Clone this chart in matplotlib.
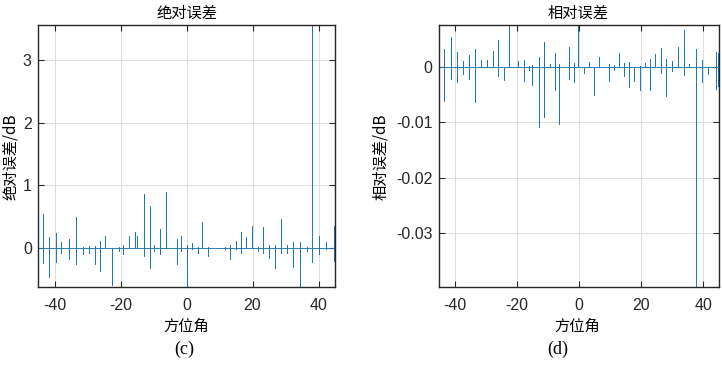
import numpy as np
import matplotlib.pyplot as plt

plt.rcParams['axes.unicode_minus'] = False

# 绝对误差 spikes: position (deg), peak above 0, dip below 0 (dB)
abs_x = [-43.5, -41.6, -39.4, -38.0, -35.5, -33.5, -31.3, -29.6, -27.7, -26.3,
         -24.6, -22.6, -20.5, -19.2, -17.3, -15.5, -15.1, -12.9, -11.0, -9.7,
         -7.9, -6.3, -2.9, -1.6, 0.0, 1.6, 3.4, 4.8, 6.5, 11.6,
         13.2, 15.0, 16.4, 18.0, 19.9, 21.6, 23.3, 25.0, 26.8, 28.7,
         30.6, 32.3, 34.3, 36.4, 38.1, 40.2, 42.4, 44.8]
abs_top = [0.54, 0.17, 0.24, 0.10, 0.15, 0.50, 0.02, 0.03, 0.03, 0.12,
           0.20, 0.00, 0.02, 0.05, 0.20, 0.25, 0.20, 0.86, 0.68, 0.05,
           0.30, 0.89, 0.15, 0.20, 0.05, 0.08, 0.02, 0.42, 0.02, 0.02,
           0.05, 0.12, 0.26, 0.17, 0.35, 0.02, 0.34, 0.05, 0.05, 0.46,
           0.05, 0.10, 0.10, 0.02, 3.60, 0.20, 0.10, 0.35]
abs_bot = [-0.24, -0.46, -0.22, -0.08, -0.17, -0.26, -0.10, -0.07, -0.25, -0.37,
           0.00, -0.59, -0.05, -0.10, 0.00, 0.00, 0.00, -0.12, -0.32, -0.05,
           -0.10, 0.00, -0.25, -0.05, -0.62, -0.02, -0.08, 0.00, -0.12, -0.02,
           -0.18, -0.02, -0.08, 0.00, 0.00, -0.05, -0.08, -0.15, -0.32, -0.08,
           -0.08, -0.30, -0.62, -0.05, -0.22, -0.10, -0.02, -0.20]

# 相对误差 spikes
rel_x = [-43.3, -41.2, -39.2, -37.2, -35.3, -33.3, -31.5, -29.6, -27.7, -25.9,
         -24.1, -22.4, -19.6, -17.6, -16.0, -15.2, -12.9, -11.2, -9.4, -7.8,
         -6.3, -3.1, -1.5, -0.2, 1.7, 3.3, 4.9, 6.4, 9.6, 11.2,
         13.0, 14.5, 16.2, 17.7, 19.6, 21.1, 22.8, 24.3, 26.2, 28.1,
         29.9, 31.8, 33.6, 35.5, 37.7, 39.5, 41.6, 44.0, 44.8]
rel_top = [0.0033, 0.0055, 0.0027, 0.0010, 0.0021, 0.0033, 0.0013, 0.0012, 0.0029, 0.0048,
           0.0000, 0.0080, 0.0010, 0.0012, 0.0002, 0.0003, 0.0019, 0.0045, 0.0006, 0.0026,
           0.0006, 0.0036, 0.0007, 0.0080, 0.0000, 0.0009, 0.0000, 0.0019, 0.0006, 0.0003,
           0.0026, 0.0007, 0.0009, 0.0000, 0.0002, 0.0007, 0.0014, 0.0023, 0.0035, 0.0015,
           0.0010, 0.0036, 0.0067, 0.0005, 0.0032, 0.0012, 0.0000, 0.0028, 0.0025]
rel_bot = [-0.0061, -0.0021, -0.0028, -0.0013, -0.0022, -0.0063, 0.0000, 0.0000, 0.0000, -0.0016,
           -0.0024, 0.0000, 0.0000, -0.0025, -0.0005, -0.0033, -0.0108, -0.0090, 0.0000, -0.0042,
           -0.0104, -0.0021, -0.0027, 0.0000, -0.0010, 0.0000, -0.0051, 0.0000, -0.0026, -0.0005,
           0.0000, -0.0016, -0.0036, -0.0025, -0.0042, 0.0000, -0.0042, 0.0000, -0.0011, -0.0052,
           -0.0008, 0.0000, -0.0014, 0.0000, -0.0400, -0.0027, -0.0013, -0.0040, -0.0035]

xticks = [-40, -20, 0, 20, 40]
abs_yticks = [0, 1, 2, 3]
rel_yticks = [-0.03, -0.02, -0.01, 0]
rel_ylabels = ['-0.03', '-0.02', '-0.01', '0']

cjk = ['Noto Sans CJK SC', 'DejaVu Sans']
blue = '#1f78b8'


def series(xs, tops, bots):
    # each spike: straight vertical up/down stroke on a zero baseline
    px, py = [-45.0], [0.0]
    for x, t, b in zip(xs, tops, bots):
        px += [x, x, x, x]
        py += [0.0, t, b, 0.0]
    px.append(45.0)
    py.append(0.0)
    return np.array(px), np.array(py)


def style(ax):
    ax.set_xlim(-45, 45)
    ax.set_xticks(xticks)
    ax.grid(True, color='#dcdcdc', linewidth=0.7)
    ax.set_axisbelow(True)
    ax.tick_params(direction='in', top=True, right=True, length=4, width=0.8,
                   labelsize=11.5, colors='#262626')
    ax.tick_params(axis='x', pad=8)
    ax.tick_params(axis='y', pad=4.5)
    for lab in ax.get_xticklabels() + ax.get_yticklabels():
        lab.set_family('Liberation Sans')
    for s in ax.spines.values():
        s.set_linewidth(1.0)
        s.set_color('#262626')


fig = plt.figure(figsize=(7.22, 3.67), dpi=100)
ax1 = fig.add_axes([38 / 722, 80 / 367, 297 / 722, 262 / 367])
ax2 = fig.add_axes([439 / 722, 80 / 367, 280 / 722, 262 / 367])

x1, y1 = series(abs_x, abs_top, abs_bot)
ax1.plot(x1, y1, color=blue, linewidth=0.65)
ax1.set_ylim(-0.62, 3.56)
ax1.set_yticks(abs_yticks)
style(ax1)

x2, y2 = series(rel_x, rel_top, rel_bot)
ax2.plot(x2, y2, color=blue, linewidth=0.65)
ax2.set_ylim(-0.0398, 0.0076)
ax2.set_yticks(rel_yticks)
ax2.set_yticklabels(rel_ylabels)
style(ax2)

fig.text(187 / 722, 1 - 13 / 367, '绝对误差', ha='center', va='center', fontsize=11, family=cjk)
fig.text(578 / 722, 1 - 13 / 367, '相对误差', ha='center', va='center', fontsize=11, family=cjk)
fig.text(10 / 722, 1 - 157 / 367, '绝对误差/dB', ha='center', va='center', rotation=90,
         fontsize=11, family=cjk)
fig.text(381 / 722, 1 - 157 / 367, '相对误差/dB', ha='center', va='center', rotation=90,
         fontsize=11, family=cjk)
fig.text(186 / 722, 1 - 326 / 367, '方位角', ha='center', va='center', fontsize=11, family=cjk)
fig.text(577 / 722, 1 - 326 / 367, '方位角', ha='center', va='center', fontsize=11, family=cjk)
fig.text(184 / 722, 1 - 349 / 367, '(c)', ha='center', va='center', fontsize=13,
         family='Liberation Serif')
fig.text(558 / 722, 1 - 349 / 367, '(d)', ha='center', va='center', fontsize=13,
         family='Liberation Serif')

fig.savefig('out.png', dpi=100)
